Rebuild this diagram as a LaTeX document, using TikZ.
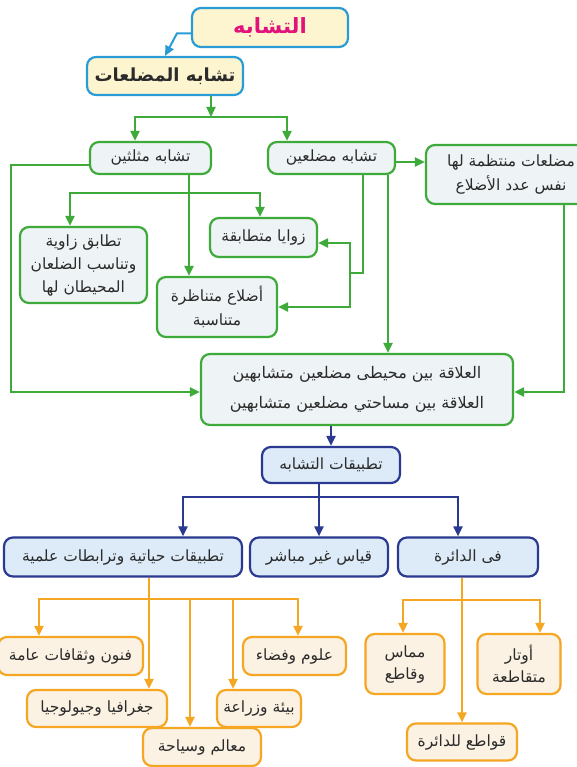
\documentclass[tikz,border=0pt]{standalone}
\usepackage{fontspec}
\newfontfamily\arabicfont[Script=Arabic]{DejaVu Sans}
\TeXXeTstate=1
\usetikzlibrary{arrows.meta}
\definecolor{topblue}{HTML}{2A9BD5}
\definecolor{topfill}{HTML}{FDF5CF}
\definecolor{pink}{HTML}{E2127A}
\definecolor{grn}{HTML}{3DAA3A}
\definecolor{gfill}{HTML}{EEF3F5}
\definecolor{navy}{HTML}{2B3990}
\definecolor{bfill}{HTML}{DCEBF7}
\definecolor{orng}{HTML}{F5A623}
\definecolor{ofill}{HTML}{FBF2E3}
\definecolor{ink}{HTML}{2B2B2B}
\newcommand\artxt[1]{\beginR #1\endR}

\begin{document}
\begin{tikzpicture}[x=1pt,y=1pt,
   box/.style={draw,rounded corners=9pt,line width=2.2pt,align=center,inner sep=2pt,text=ink,
     font=\arabicfont\fontsize{15.5}{24}\selectfont},
   topbox/.style={box,draw=topblue,fill=topfill,font=\arabicfont\bfseries\fontsize{18}{20}\selectfont},
   gbox/.style={box,draw=grn,fill=gfill},
   bbox/.style={box,draw=navy,fill=bfill},
   obox/.style={box,draw=orng,fill=ofill,font=\arabicfont\fontsize{15.5}{22}\selectfont},
   garr/.style={draw=grn,line width=2pt,-{Triangle[length=10pt,width=9pt]}},
   gline/.style={draw=grn,line width=2pt},
   barr/.style={draw=topblue,line width=2pt,-{Triangle[length=10pt,width=9pt]}},
   narr/.style={draw=navy,line width=2pt,-{Triangle[length=10pt,width=9pt]}},
   oarr/.style={draw=orng,line width=2pt,-{Triangle[length=10pt,width=9pt]}}]
\useasboundingbox[fill=white] (0,0) rectangle (576,-767);

% top
\node[topbox,minimum width=156pt,minimum height=39pt,text=pink,font=\arabicfont\bfseries\fontsize{21}{24}\selectfont] (title) at (270,-27.5) {\artxt{التشابه}};
\node[topbox,minimum width=156pt,minimum height=38pt] (polys) at (165,-76) {\artxt{تشابه المضلعات}};

% green part
\node[gbox,minimum width=121pt,minimum height=32pt] (tri) at (150.5,-158) {\artxt{تشابه مثلثين}};
\node[gbox,minimum width=127pt,minimum height=32pt] (poly) at (331.5,-158) {\artxt{تشابه مضلعين}};
\node[gbox,minimum width=170pt,minimum height=59pt] (reg) at (511,-174.5)
  {\artxt{مضلعات منتظمة لها}\\\artxt{نفس عدد الأضلاع}};
\node[gbox,minimum width=127pt,minimum height=76pt,font=\arabicfont\fontsize{15.5}{23}\selectfont] (sas) at (83.5,-265)
  {\artxt{تطابق زاوية}\\\artxt{وتناسب الضلعان}\\\artxt{المحيطان لها}};
\node[gbox,minimum width=107pt,minimum height=39pt] (ang) at (263.5,-237.5) {\artxt{زوايا متطابقة}};
\node[gbox,minimum width=120pt,minimum height=60pt] (side) at (217,-307)
  {\artxt{أضلاع متناظرة}\\\artxt{متناسبة}};
\node[gbox,minimum width=312pt,minimum height=71pt,font=\arabicfont\fontsize{16}{30}\selectfont] (rel) at (357,-389.5)
  {\artxt{العلاقة بين محيطى مضلعين متشابهين}\\\artxt{العلاقة بين مساحتي مضلعين متشابهين}};

% blue part
\node[bbox,minimum width=138pt,minimum height=36pt] (app) at (331,-465) {\artxt{تطبيقات التشابه}};
\node[bbox,minimum width=238pt,minimum height=39pt] (life) at (123,-557) {\artxt{تطبيقات حياتية وترابطات علمية}};
\node[bbox,minimum width=138pt,minimum height=39pt] (ind) at (319,-557) {\artxt{قياس غير مباشر}};
\node[bbox,minimum width=140pt,minimum height=39pt] (circ) at (468,-557) {\artxt{فى الدائرة}};

% orange part
\node[obox,minimum width=145pt,minimum height=38pt] (fun) at (70.5,-656) {\artxt{فنون وثقافات عامة}};
\node[obox,minimum width=103pt,minimum height=38pt] (sci) at (294.5,-656) {\artxt{علوم وفضاء}};
\node[obox,minimum width=140pt,minimum height=37pt] (geo) at (97,-708.5) {\artxt{جغرافيا وجيولوجيا}};
\node[obox,minimum width=84pt,minimum height=37pt] (env) at (259,-708.5) {\artxt{بيئة وزراعة}};
\node[obox,minimum width=118pt,minimum height=38pt] (land) at (202,-747) {\artxt{معالم وسياحة}};
\node[obox,minimum width=79pt,minimum height=60pt] (tan) at (405,-664) {\artxt{مماس}\\\artxt{وقاطع}};
\node[obox,minimum width=83pt,minimum height=60pt] (chord) at (519,-664) {\artxt{أوتار}\\\artxt{متقاطعة}};
\node[obox,minimum width=110pt,minimum height=37pt] (sec) at (462,-742) {\artxt{قواطع للدائرة}};

% junctions
\coordinate (j1) at (211,-117);
\coordinate (j2) at (189,-193);
\coordinate (j3) at (363,-273);
\coordinate (j4) at (350,-273);
\coordinate (jl) at (11,-392);
\coordinate (jr) at (564,-392);
\coordinate (j5) at (319,-497);
\coordinate (j6) at (149,-599);
\coordinate (j7) at (190,-599);
\coordinate (j8) at (233,-599);
\coordinate (j9) at (462,-600);

\draw[barr] ([yshift=-6pt]title.west) -- ++(-14,0) -- (polys.north);
\draw[garr] (polys.south -| j1) -- (j1);
\draw[garr] (j1) -| ([xshift=-15.5pt]tri.north);
\draw[garr] (j1) -| ([xshift=-44.5pt]poly.north);
\draw[garr] ([yshift=-4pt]poly.east) -- ([yshift=-4pt]poly.east -| reg.west);
\draw[garr] ([yshift=-7pt]tri.west) -| (jl) -- (rel.west |- jl);
\draw[garr] (reg.south -| jr) -- (jr) -- (rel.east |- jr);
\draw[garr] (tri.south -| j2) -- (side.north -| j2);
\draw[garr] (j2) -| ([xshift=-13.5pt]sas.north);
\draw[garr] (j2) -| ([xshift=-3.5pt]ang.north);
\draw[gline] (poly.south -| j3) -- (j3) -- (j4);
\draw[garr] (j4) |- ([yshift=-5.5pt]ang.east);
\draw[garr] (j4) |- (side.east);
\draw[garr] ([xshift=56.5pt]poly.south) -- ([xshift=56.5pt]poly.south |- rel.north);

\draw[narr] (rel.south -| app.north) -- (app.north);
\draw[narr] (app.south -| j5) -- (j5) -| ([xshift=60pt]life.north);
\draw[narr] (j5) -- (ind.north);
\draw[narr] (j5) -| ([xshift=-10pt]circ.north);

\draw[oarr] (life.south -| j6) -- (geo.north -| j6);
\draw[oarr] (j6) -| ([xshift=-31.5pt]fun.north);
\draw[oarr] (j6) -| ([xshift=3.5pt]sci.north);
\draw[oarr] (j7) -- (land.north -| j7);
\draw[oarr] (j8) -- (env.north -| j8);
\draw[oarr] (circ.south -| j9) -- (sec.north -| j9);
\draw[oarr] (j9) -| ([xshift=-2pt]tan.north);
\draw[oarr] (j9) -| ([xshift=21pt]chord.north);
\end{tikzpicture}
\end{document}
